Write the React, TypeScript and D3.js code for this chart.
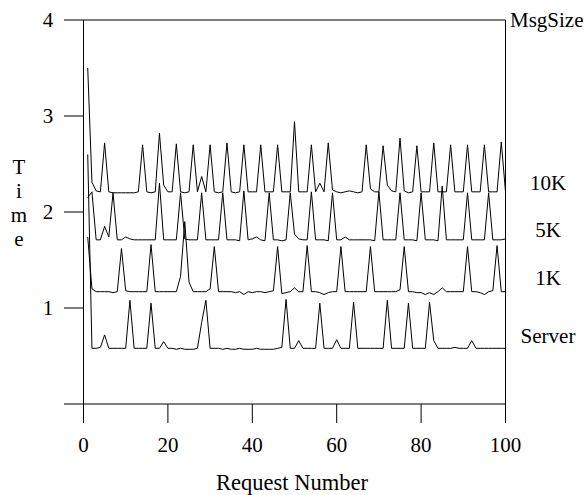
import React from "react";
import * as d3 from "d3";

// request numbers 1..100
const requests = d3.range(1, 101);

const series10K = [
  3.5, 2.31, 2.22, 2.21, 2.72, 2.21, 2.2, 2.2, 2.2, 2.2,
  2.2, 2.2, 2.21, 2.7, 2.21, 2.2, 2.21, 2.82, 2.28, 2.21,
  2.21, 2.71, 2.21, 2.2, 2.21, 2.7, 2.21, 2.37, 2.21, 2.7,
  2.21, 2.2, 2.21, 2.72, 2.21, 2.2, 2.21, 2.7, 2.21, 2.21,
  2.21, 2.7, 2.21, 2.21, 2.21, 2.7, 2.21, 2.21, 2.21, 2.94,
  2.21, 2.21, 2.21, 2.7, 2.21, 2.3, 2.21, 2.72, 2.23, 2.21,
  2.2, 2.21, 2.22, 2.21, 2.2, 2.21, 2.7, 2.24, 2.21, 2.21,
  2.69, 2.28, 2.22, 2.21, 2.77, 2.22, 2.2, 2.21, 2.69, 2.21,
  2.21, 2.21, 2.72, 2.21, 2.21, 2.21, 2.7, 2.21, 2.21, 2.21,
  2.7, 2.21, 2.21, 2.21, 2.7, 2.21, 2.21, 2.21, 2.73, 2.21,
];

const series5K = [
  2.15, 2.21, 1.71, 1.71, 1.85, 1.74, 2.2, 1.71, 1.71, 1.74,
  1.72, 1.71, 1.71, 1.71, 1.71, 1.71, 1.71, 2.3, 1.71, 1.71,
  1.71, 1.71, 2.2, 1.72, 1.71, 1.71, 1.71, 2.2, 1.71, 1.71,
  1.71, 1.71, 2.2, 1.71, 1.71, 1.71, 1.7, 2.22, 1.71, 1.72,
  1.74, 1.71, 1.7, 2.2, 1.71, 1.71, 1.7, 1.71, 2.2, 1.77,
  1.72, 1.71, 1.71, 2.21, 1.71, 1.71, 1.71, 1.7, 2.2, 1.71,
  1.71, 1.74, 1.71, 1.71, 1.71, 1.71, 1.71, 1.71, 1.7, 2.21,
  1.71, 1.71, 1.71, 1.71, 2.2, 1.71, 1.71, 1.71, 1.7, 2.2,
  1.71, 1.71, 1.71, 1.7, 2.27, 1.71, 1.71, 1.71, 1.71, 1.71,
  2.2, 1.71, 1.71, 1.71, 1.71, 2.2, 1.71, 1.71, 1.71, 1.72,
];

const series1K = [
  1.74, 1.2, 1.17, 1.17, 1.17, 1.17, 1.16, 1.17, 1.62, 1.18,
  1.17, 1.17, 1.17, 1.17, 1.17, 1.66, 1.17, 1.17, 1.17, 1.17,
  1.17, 1.17, 1.33, 1.9, 1.27, 1.17, 1.17, 1.17, 1.17, 1.2,
  1.64, 1.17, 1.17, 1.17, 1.17, 1.16, 1.17, 1.14, 1.17, 1.16,
  1.17, 1.17, 1.16, 1.17, 1.18, 1.64, 1.15, 1.16, 1.17, 1.21,
  1.17, 1.17, 1.65, 1.17, 1.17, 1.16, 1.14, 1.16, 1.17, 1.17,
  1.64, 1.17, 1.17, 1.17, 1.17, 1.17, 1.17, 1.64, 1.17, 1.17,
  1.17, 1.17, 1.17, 1.17, 1.19, 1.64, 1.17, 1.17, 1.16, 1.16,
  1.14, 1.16, 1.14, 1.17, 1.21, 1.17, 1.17, 1.17, 1.17, 1.17,
  1.64, 1.17, 1.17, 1.16, 1.14, 1.17, 1.18, 1.65, 1.17, 1.17,
];

const seriesServer = [
  2.6, 0.58, 0.58, 0.59, 0.72, 0.58, 0.58, 0.58, 0.58, 0.58,
  1.08, 0.58, 0.58, 0.58, 0.58, 1.05, 0.58, 0.58, 0.65, 0.58,
  0.58, 0.57, 0.58, 0.57, 0.57, 0.57, 0.58, 0.85, 1.08, 0.58,
  0.58, 0.58, 0.57, 0.58, 0.57, 0.57, 0.58, 0.57, 0.57, 0.57,
  0.58, 0.57, 0.57, 0.57, 0.57, 0.58, 0.59, 1.09, 0.58, 0.58,
  0.66, 0.58, 0.58, 0.58, 0.58, 1.05, 0.58, 0.58, 0.58, 0.67,
  0.58, 0.58, 0.58, 1.06, 0.58, 0.58, 0.58, 0.58, 0.58, 0.58,
  0.58, 1.08, 0.58, 0.58, 0.58, 0.58, 1.05, 0.58, 0.58, 0.58,
  0.58, 1.06, 0.66, 0.58, 0.58, 0.58, 0.58, 0.59, 0.58, 0.58,
  0.58, 0.66, 0.58, 0.58, 0.58, 0.58, 0.58, 0.58, 0.58, 0.58,
];

const seriesNames = ["10K", "5K", "1K", "Server"];
const seriesValues = [series10K, series5K, series1K, seriesServer];
// where each name sits on the time scale (label centre)
const labelAt = [2.3, 1.81, 1.31, 0.71];

const xTicks = [0, 20, 40, 60, 80, 100];
const yTicks = [0, 1, 2, 3, 4];
const yTickLabels = ["", "1", "2", "3", "4"];

const App = () => {
  const width = 585;
  const height = 495;
  const font = "'Liberation Serif', 'Times New Roman', serif";

  const x = d3.scaleLinear().domain([0, 100]).range([83.5, 505.5]);
  const y = d3.scaleLinear().domain([0, 4]).range([404, 20]);

  const line = d3
    .line<number>()
    .x((d, i) => x(requests[i]))
    .y((d) => y(d));

  return (
    <svg
      width={width}
      height={height}
      style={{ position: "absolute", left: 0, top: 0, background: "#fff" }}
      fontFamily={font}
    >
      {/* y ticks; top and bottom run across the plot */}
      {yTicks.map((t) => (
        <line
          key={"yt" + t}
          x1={64}
          x2={t === 0 || t === 4 ? x(100) : x(0)}
          y1={y(t)}
          y2={y(t)}
          stroke="#000"
          strokeWidth={1}
        />
      ))}
      {yTicks.map((t, i) =>
        yTickLabels[i] ? (
          <text key={"yl" + t} x={48} y={y(t) + 7} fontSize={21} textAnchor="middle">
            {yTickLabels[i]}
          </text>
        ) : null
      )}

      {/* x ticks */}
      {xTicks.map((t) => (
        <line key={"xt" + t} x1={x(t)} x2={x(t)} y1={y(0)} y2={423} stroke="#000" strokeWidth={1} />
      ))}
      {xTicks.map((t) => (
        <text key={"xl" + t} x={x(t)} y={452} fontSize={21} textAnchor="middle">
          {t}
        </text>
      ))}

      {/* frame verticals */}
      <line x1={x(0)} x2={x(0)} y1={y(4)} y2={y(0)} stroke="#000" />
      <line x1={x(100)} x2={x(100)} y1={y(4)} y2={y(0)} stroke="#000" />

      {/* series */}
      {seriesValues.map((vals, k) => (
        <path key={seriesNames[k]} d={line(vals) || ""} fill="none" stroke="#000" strokeWidth={1} />
      ))}

      {/* series labels on the right */}
      <text x={510} y={27} fontSize={21}>
        MsgSize
      </text>
      {seriesNames.map((n, k) => (
        <text key={"lab" + n} x={548} y={y(labelAt[k]) + 7} fontSize={21} textAnchor="middle">
          {n}
        </text>
      ))}

      {/* axis titles */}
      {["T", "i", "m", "e"].map((c, i) => (
        <text key={"t" + i} x={19} y={174 + i * 24} fontSize={21} textAnchor="middle">
          {c}
        </text>
      ))}
      <text x={292} y={490} fontSize={22.5} textAnchor="middle">
        Request Number
      </text>
    </svg>
  );
};

export default App;
